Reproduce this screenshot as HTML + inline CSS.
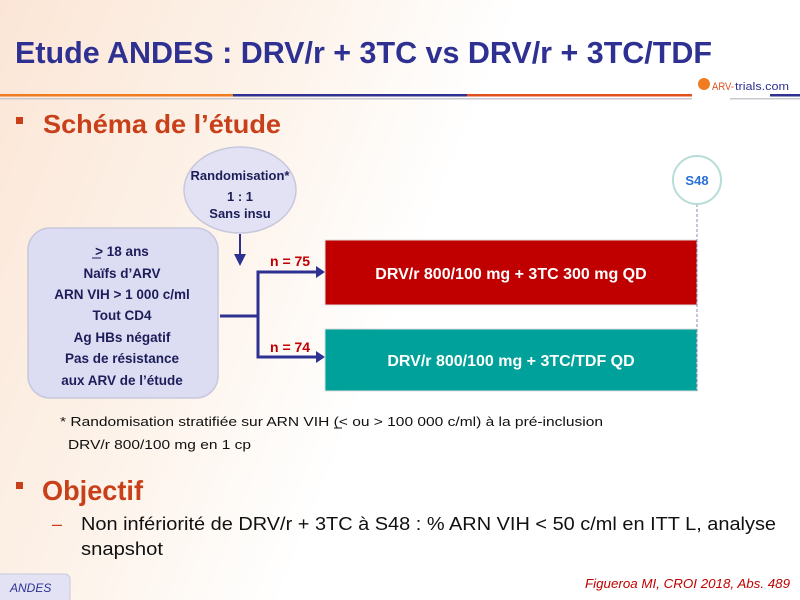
<!DOCTYPE html>
<html><head><meta charset="utf-8"><style>
html,body{margin:0;padding:0;width:800px;height:600px;overflow:hidden;background:#fff}
svg{display:block}
text{font-family:"Liberation Sans",sans-serif}
</style></head><body>
<svg width="800" height="600" viewBox="0 0 800 600" xmlns="http://www.w3.org/2000/svg">
<defs>
<linearGradient id="bg" x1="0" y1="0" x2="1" y2="0.3">
<stop offset="0" stop-color="#fbe6d6"/><stop offset="0.35" stop-color="#fdf3ea"/><stop offset="0.6" stop-color="#ffffff"/>
</linearGradient>
<marker id="ar" markerWidth="6" markerHeight="6" refX="5" refY="3" orient="auto" markerUnits="strokeWidth">
<path d="M0,0 L6,3 L0,6 z" fill="#2e3192"/></marker>
</defs>
<rect width="800" height="600" fill="url(#bg)"/>
<text x="15" y="63" font-size="31" font-weight="bold" fill="#2e3192" textLength="697" lengthAdjust="spacingAndGlyphs">Etude ANDES : DRV/r + 3TC vs DRV/r + 3TC/TDF</text>
<rect x="0" y="94" width="233" height="2.5" fill="#f07c22"/>
<rect x="233" y="94" width="234" height="2.5" fill="#2e3192"/>
<rect x="467" y="94" width="225" height="2.5" fill="#e0501e"/>
<rect x="770" y="94" width="30" height="2.5" fill="#2e3192"/>
<rect x="0" y="98" width="692" height="1.5" fill="#c8c8d0"/>
<rect x="730" y="98" width="70" height="1.5" fill="#c8c8d0"/>
<circle cx="704" cy="84" r="6" fill="#f07c22"/>
<text x="712" y="90" font-size="11" fill="#e0501e" textLength="22" lengthAdjust="spacingAndGlyphs">ARV-</text>
<text x="735" y="90" font-size="11" fill="#2e3192" textLength="54" lengthAdjust="spacingAndGlyphs">trials.com</text>
<rect x="16" y="117" width="7" height="7" fill="#c8401a"/>
<text x="43" y="133" font-size="26" font-weight="bold" fill="#c8401a" textLength="238" lengthAdjust="spacingAndGlyphs">Schéma de l’étude</text>
<ellipse cx="240" cy="190" rx="56" ry="43" fill="#e2e2f4" stroke="#c8c8dc" stroke-width="1.5"/>
<g font-size="13" font-weight="bold" fill="#1d1d5a" text-anchor="middle">
<text x="240" y="180">Randomisation*</text><text x="240" y="201">1 : 1</text><text x="240" y="218">Sans insu</text></g>
<rect x="28" y="228" width="190" height="170" rx="22" fill="#dcdcf2" stroke="#c8c8dc" stroke-width="1.5"/>
<g font-size="13.5" font-weight="bold" fill="#1d1d5a" text-anchor="middle">
<text x="122" y="256">&gt; 18 ans</text><text x="122" y="278">Naïfs d’ARV</text>
<text x="122" y="299">ARN VIH &gt; 1 000 c/ml</text><text x="122" y="320">Tout CD4</text>
<text x="122" y="342">Ag HBs négatif</text><text x="122" y="363">Pas de résistance</text>
<text x="122" y="385">aux ARV de l’étude</text></g>
<line x1="92" y1="258" x2="101" y2="258" stroke="#1d1d5a" stroke-width="1"/>
<line x1="240" y1="234" x2="240" y2="264" stroke="#2e3192" stroke-width="2" marker-end="url(#ar)"/>
<polyline points="220,316 258,316" stroke="#2e3192" stroke-width="3" fill="none"/>
<polyline points="320,272 258,272 258,357 320,357" stroke="#2e3192" stroke-width="3" fill="none"/>
<path d="M316,266 L325,272 L316,278z M316,351 L325,357 L316,363z" fill="#2e3192"/>
<text x="270" y="266" font-size="14" font-weight="bold" fill="#c00000">n = 75</text>
<text x="270" y="352" font-size="14" font-weight="bold" fill="#c00000">n = 74</text>
<rect x="325" y="240" width="372" height="65" fill="#c00000" stroke="#ddd" stroke-width="1"/>
<rect x="325" y="329" width="372" height="62" fill="#00a19a" stroke="#ddd" stroke-width="1"/>
<text x="511" y="279" font-size="16" font-weight="bold" fill="#fff" text-anchor="middle">DRV/r 800/100 mg + 3TC 300 mg QD</text>
<text x="511" y="366" font-size="16" font-weight="bold" fill="#fff" text-anchor="middle">DRV/r 800/100 mg  + 3TC/TDF QD</text>
<line x1="697" y1="204" x2="697" y2="391" stroke="#8888bb" stroke-width="1" stroke-dasharray="3,2"/>
<circle cx="697" cy="180" r="24" fill="#fff" stroke="#b8dcd8" stroke-width="2"/>
<text x="697" y="185" font-size="13" font-weight="bold" fill="#2a6fd6" text-anchor="middle">S48</text>
<text x="60" y="426" font-size="13" fill="#111" textLength="543" lengthAdjust="spacingAndGlyphs">* Randomisation stratifiée sur ARN VIH (&lt; ou &gt; 100 000 c/ml) à la pré-inclusion</text>
<line x1="334" y1="428" x2="342" y2="428" stroke="#111" stroke-width="1"/>
<text x="68" y="449" font-size="13" fill="#111" textLength="183" lengthAdjust="spacingAndGlyphs">DRV/r 800/100 mg en 1 cp</text>
<rect x="16" y="482" width="7" height="7" fill="#c8401a"/>
<text x="42" y="500" font-size="28" font-weight="bold" fill="#c8401a" textLength="101" lengthAdjust="spacingAndGlyphs">Objectif</text>
<text x="52" y="530" font-size="18" fill="#c8401a">–</text>
<text x="81" y="530" font-size="18" fill="#111" textLength="695" lengthAdjust="spacingAndGlyphs">Non infériorité de DRV/r + 3TC à S48 : % ARN VIH &lt; 50 c/ml en ITT L, analyse</text>
<text x="81" y="555" font-size="18" fill="#111" textLength="82" lengthAdjust="spacingAndGlyphs">snapshot</text>
<rect x="-5" y="574" width="75" height="30" rx="5" fill="#e2e2f4" stroke="#c8c8dc"/>
<text x="10" y="592" font-size="12" font-style="italic" font-family="Liberation Serif" fill="#2e3192">ANDES</text>
<text x="790" y="588" font-size="13" font-style="italic" fill="#c00000" text-anchor="end" textLength="205" lengthAdjust="spacingAndGlyphs">Figueroa MI, CROI 2018, Abs. 489</text>
</svg>
</body></html>
